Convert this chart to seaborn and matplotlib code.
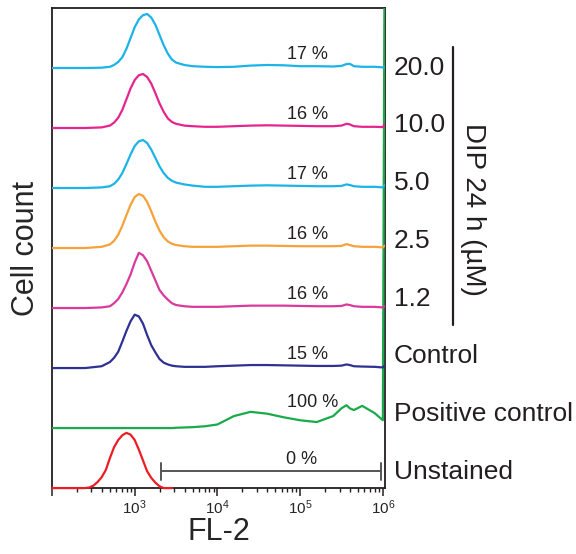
#!/usr/bin/env python3
"""
Stacked FL-2 histograms (DIP 24 h dose series) -> out.png
"""

import numpy as np
import pandas as pd
import matplotlib
matplotlib.use('Agg')
import matplotlib.pyplot as plt
import matplotlib.transforms as mtransforms
from matplotlib.ticker import LogLocator, FuncFormatter, NullFormatter
import seaborn as sns

# log10(FL-2) grid shared by the stained samples
LOG_X = [2.0, 2.4, 2.6, 2.7, 2.75, 2.8, 2.85, 2.9, 2.95, 3.0, 3.05, 3.1, 3.15,
         3.2, 3.25, 3.3, 3.35, 3.4, 3.45, 3.5, 3.6, 3.7, 3.85, 4.0, 4.2, 4.4,
         4.6, 4.8, 5.0, 5.2, 5.4, 5.5, 5.56, 5.6, 5.65, 5.75, 5.9, 6.0, 6.02]

# unstained has its own (shorter) grid
UNST_LOG_X = [2.0, 2.3, 2.4, 2.45, 2.5, 2.55, 2.6, 2.65, 2.7, 2.75, 2.8, 2.85,
              2.9, 2.95, 3.0, 3.05, 3.1, 3.15, 3.2, 3.25, 3.3, 3.35, 3.45]

# normalised counts
UNSTAINED = [0, 0, 0, 0.01, 0.04, 0.10, 0.18, 0.30, 0.50, 0.68, 0.80, 0.88,
             0.92, 0.89, 0.80, 0.64, 0.46, 0.28, 0.17, 0.09, 0.03, 0.0, 0.0]

POSITIVE = [0, 0, 0, 0, 0, 0, 0, 0, 0, 0, 0, 0, 0,
            0, 0, 0, 0, 0, 0, 0.005, 0.01, 0.015, 0.03, 0.06, 0.20, 0.27,
            0.24, 0.18, 0.13, 0.10, 0.20, 0.33, 0.38, 0.33, 0.30, 0.37, 0.25, 0.13, 7.5]

CONTROL = [0, 0, 0.03, 0.10, 0.17, 0.27, 0.44, 0.62, 0.78, 0.89, 0.86, 0.74, 0.55,
           0.38, 0.26, 0.15, 0.09, 0.06, 0.04, 0.03, 0.02, 0.02, 0.02, 0.03, 0.04, 0.05,
           0.05, 0.045, 0.04, 0.035, 0.035, 0.04, 0.06, 0.05, 0.03, 0.025, 0.02, 0.01, 0.04]

DIP_1_2 = [0, 0, 0.01, 0.03, 0.08, 0.15, 0.26, 0.40, 0.56, 0.76, 0.92, 0.88, 0.78,
           0.62, 0.46, 0.30, 0.21, 0.14, 0.08, 0.05, 0.03, 0.02, 0.02, 0.02, 0.03, 0.04,
           0.04, 0.04, 0.035, 0.03, 0.03, 0.035, 0.06, 0.05, 0.03, 0.02, 0.02, 0.01, 0.03]

DIP_2_5 = [0, 0, 0.02, 0.06, 0.12, 0.22, 0.37, 0.55, 0.72, 0.85, 0.90, 0.87, 0.77,
           0.61, 0.44, 0.29, 0.18, 0.11, 0.07, 0.05, 0.03, 0.02, 0.02, 0.02, 0.03, 0.04,
           0.04, 0.035, 0.03, 0.03, 0.03, 0.035, 0.065, 0.05, 0.03, 0.02, 0.02, 0.01, 0.04]

DIP_5_0 = [0, 0, 0.01, 0.03, 0.07, 0.14, 0.25, 0.40, 0.56, 0.70, 0.78, 0.80, 0.75,
           0.64, 0.50, 0.36, 0.25, 0.17, 0.12, 0.09, 0.06, 0.04, 0.02, 0.02, 0.03, 0.04,
           0.045, 0.04, 0.035, 0.03, 0.03, 0.035, 0.06, 0.05, 0.03, 0.02, 0.02, 0.01, 0.05]

DIP_10_0 = [0, 0, 0.01, 0.04, 0.09, 0.17, 0.30, 0.48, 0.66, 0.80, 0.88, 0.90, 0.85,
            0.74, 0.58, 0.41, 0.27, 0.16, 0.10, 0.07, 0.04, 0.03, 0.02, 0.02, 0.03, 0.04,
            0.045, 0.04, 0.035, 0.03, 0.03, 0.04, 0.07, 0.06, 0.03, 0.02, 0.02, 0.015, 0.06]

DIP_20_0 = [0, 0, 0.005, 0.02, 0.05, 0.10, 0.18, 0.32, 0.50, 0.68, 0.81, 0.88, 0.90,
            0.84, 0.72, 0.55, 0.38, 0.24, 0.14, 0.09, 0.05, 0.03, 0.02, 0.015, 0.02, 0.04,
            0.05, 0.045, 0.03, 0.03, 0.025, 0.035, 0.065, 0.07, 0.03, 0.02, 0.02, 0.01, 0.01]

# bottom to top
LABELS = ['Unstained', 'Positive control', 'Control', '1.2', '2.5', '5.0', '10.0', '20.0']
PERCENTS = ['0 %', '100 %', '15 %', '16 %', '16 %', '17 %', '16 %', '17 %']
COLORS = ['#ec1c24', '#1aaa4b', '#2e3192', '#d93a9b', '#f7a13a', '#1cb3e8', '#e6248e', '#1cb3e8']

GATE_LO, GATE_HI = 10 ** 3.32, 10 ** 5.98


def main():
    sns.set_theme(style='white')
    plt.rcParams['font.family'] = ['Liberation Sans', 'DejaVu Sans']
    plt.rcParams['axes.unicode_minus'] = False

    series = [UNSTAINED, POSITIVE, CONTROL, DIP_1_2, DIP_2_5, DIP_5_0, DIP_10_0, DIP_20_0]
    grids = [UNST_LOG_X] + [LOG_X] * 7

    fig = plt.figure(figsize=(5.76, 5.54), dpi=100)
    ax = fig.add_axes([0.0903, 0.119, 0.578, 0.8666])
    ax.set_xscale('log')

    for i, (lx, vals) in enumerate(zip(grids, series)):
        df = pd.DataFrame({'fl2': 10 ** np.asarray(lx), 'count': np.asarray(vals) + i})
        sns.lineplot(data=df, x='fl2', y='count', color=COLORS[i], lw=1.6,
                     ax=ax, sort=False, estimator=None, zorder=3,
                     clip_on=(i != 0))

    ax.set_xlim(1e2, 1.06e6)
    ax.set_ylim(0, 8)
    ax.set_yticks([])

    for sp in ax.spines.values():
        sp.set_color('#231f20')
        sp.set_linewidth(1.3)
        sp.set_visible(True)

    ax.xaxis.set_major_locator(LogLocator(base=10))
    ax.xaxis.set_minor_locator(LogLocator(base=10, subs=np.arange(2, 10)))
    ax.xaxis.set_major_formatter(FuncFormatter(
        lambda v, p: '' if v < 500 else r'$\mathdefault{10^{%d}}$' % round(np.log10(v))))
    ax.xaxis.set_minor_formatter(NullFormatter())
    ax.tick_params(axis='x', which='major', length=5.5, width=1.1, direction='out',
                   color='#231f20', labelsize=11, pad=2, bottom=True)
    ax.tick_params(axis='x', which='minor', length=3.2, width=1.0, direction='out',
                   color='#231f20', bottom=True)

    ax.set_xlabel('FL-2', fontsize=22, labelpad=0)
    ax.set_ylabel('Cell count', fontsize=22, labelpad=8)

    # percent of events in gate
    for i, txt in enumerate(PERCENTS):
        if i == 0:
            ax.text(10 ** 5.02, 0.33, txt, fontsize=13, ha='center', va='bottom', color='#231f20')
        elif i == 1:
            ax.text(10 ** 5.15, 1.28, txt, fontsize=13, ha='center', va='bottom', color='#231f20')
        else:
            ax.text(10 ** 5.09, i + 0.08, txt, fontsize=13, ha='center', va='bottom', color='#231f20')

    # gate bracket on the unstained panel
    ax.plot([GATE_LO, GATE_HI], [0.28, 0.28], color='#555555', lw=1.4)
    for gx in (GATE_LO, GATE_HI):
        ax.plot([gx, gx], [0.14, 0.42], color='#555555', lw=1.4)

    trans = mtransforms.blended_transform_factory(ax.transAxes, ax.transData)
    for i, lab in enumerate(LABELS):
        ax.text(1.027, 0.27 + i * 0.962, lab, transform=trans, fontsize=19,
                ha='left', va='center', color='#231f20', clip_on=False)

    ax.plot([1.204, 1.204], [2.72, 7.35], transform=trans, color='#231f20',
            lw=1.6, clip_on=False)
    ax.text(1.265, 4.65, 'DIP 24 h (µM)', transform=trans, fontsize=20, rotation=-90,
            ha='center', va='center', color='#231f20', clip_on=False)

    fig.savefig('out.png', dpi=100)
    plt.close(fig)


if __name__ == '__main__':
    main()
